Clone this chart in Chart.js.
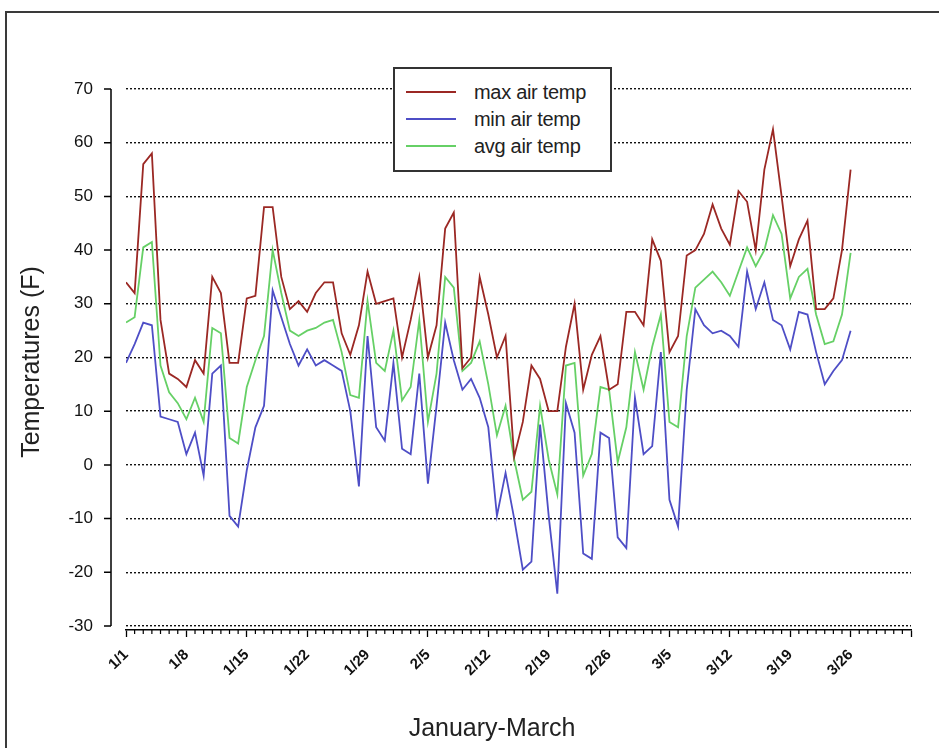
<!DOCTYPE html>
<html>
<head>
<meta charset="utf-8">
<title>Air temperature January-March</title>
<script src="https://cdn.jsdelivr.net/npm/chart.js@4.4.1/dist/chart.umd.min.js"></script>
<style>
  html, body { margin: 0; padding: 0; background: #fff; overflow: hidden; }
  #wrap { position: relative; width: 939px; height: 748px; }
  #frame { position: absolute; left: 5px; top: 11px; width: 1000px; height: 1000px; border: 2px solid #3a3a3a; box-sizing: border-box; }
  #myChart { position: absolute; left: 0; top: 0; }
  #legend { position: absolute; left: 393px; top: 67px; width: 219px; height: 105px; box-sizing: border-box;
            border: 2px solid #333; background: #fff; font-family: Arial, "Liberation Sans", sans-serif; font-size: 20px; color: #222; }
  .row { position: absolute; left: 0; height: 22px; line-height: 22px; width: 100%; }
  .swatch { position: absolute; left: 11px; top: 10px; width: 50px; height: 2px; }
  .label { position: absolute; left: 79px; top: 0; white-space: nowrap; letter-spacing: -0.3px; }
</style>
</head>
<body>
<div id="wrap">
  <div id="frame"></div>
  <canvas id="myChart" width="939" height="748"></canvas>
  <div id="legend"></div>
</div>
<script>
// daily values from 1/1 (day 0) to 3/26 (day 84), degrees F
var maxTemp = [34, 32, 56, 58, 27, 17, 16, 14.5, 19.5, 17,
               35, 32, 19, 19, 31, 31.5, 48, 48, 35, 29,
               30.5, 28.5, 32, 34, 34, 24.5, 20.5, 26, 36, 30,
               30.5, 31, 20, 27, 35, 20, 26, 44, 47, 18,
               20, 35, 28, 20, 24, 1.5, 8, 18.5, 16, 10,
               10, 22, 30, 14, 20.5, 24, 14, 15, 28.5, 28.5,
               26, 42, 38, 21, 24, 39, 40, 43, 48.5, 44,
               41, 51, 49, 40, 55, 62.5, 50, 37, 42, 45.5,
               29, 29, 31, 40, 55];
var minTemp = [19, 22.5, 26.5, 26, 9, 8.5, 8, 2, 6, -2,
               17, 18.5, -9.5, -11.5, -1, 7, 11, 32.5, 27.5, 22.5,
               18.5, 21.5, 18.5, 19.5, 18.5, 17.5, 10, -4, 24, 7,
               4.5, 19, 3, 2, 17, -3.5, 11, 26.5, 19.5, 14,
               16, 12.5, 7, -9.5, -1.5, -10, -19.5, -18, 7.5, -9.5,
               -24, 11.5, 6, -16.5, -17.5, 6, 5, -13.5, -15.5, 12.5,
               2, 3.5, 21, -6.5, -11.5, 14, 29, 26, 24.5, 25,
               24, 22, 36, 29, 34, 27, 26, 21.5, 28.5, 28,
               21, 15, 17.5, 19.5, 25];
var avgTemp = [26.5, 27.5, 40.5, 41.5, 18.5, 13.5, 11.5, 8.5, 12.5, 8,
               25.5, 24.5, 5, 4, 14.5, 19.5, 24, 40, 32, 25,
               24, 25, 25.5, 26.5, 27, 21, 13, 12.5, 30.5, 19,
               17.5, 25, 12, 14.5, 27, 8, 17, 35, 33, 17.5,
               19, 23, 15, 5.5, 11, 1, -6.5, -5, 11, 1,
               -5.5, 18.5, 19, -2, 2, 14.5, 14, 0.5, 7, 21,
               14, 22, 28, 8, 7, 24, 33, 34.5, 36, 34,
               31.5, 36, 40.5, 37, 40, 46.5, 43, 31, 35, 36.5,
               28, 22.5, 23, 28, 39.5];
var seriesNames = ['max air temp', 'min air temp', 'avg air temp'];
var tickLabels = ['1/1', '1/8', '1/15', '1/22', '1/29', '2/5', '2/12', '2/19', '2/26', '3/5', '3/12', '3/19', '3/26'];
var yTicks = [70, 60, 50, 40, 30, 20, 10, 0, -10, -20, -30];

var colors = ['rgb(155, 40, 36)', 'rgb(78, 78, 198)', 'rgb(102, 208, 102)'];
var lastDay = 91;

function toPoints(arr) {
  return arr.map(function (v, i) { return { x: i, y: v }; });
}

// draws the offset y axis, minor x ticks and the axis titles
var offsetAxes = {
  id: 'offsetAxes',
  afterDraw: function (chart) {
    var ctx = chart.ctx, x = chart.scales.x, y = chart.scales.y, area = chart.chartArea;
    var ax = area.left - 15;
    ctx.save();
    ctx.strokeStyle = '#000';
    ctx.lineWidth = 1.5;
    ctx.beginPath();
    ctx.moveTo(ax, y.getPixelForValue(70));
    ctx.lineTo(ax, y.getPixelForValue(-30));
    yTicks.forEach(function (v) {
      var py = y.getPixelForValue(v);
      ctx.moveTo(ax - 7, py);
      ctx.lineTo(ax, py);
    });
    ctx.stroke();

    ctx.lineWidth = 1.2;
    ctx.beginPath();
    for (var d = 0; d <= lastDay; d++) {
      if (d % 7 === 0) continue;
      var px = x.getPixelForValue(d);
      ctx.moveTo(px, area.bottom);
      ctx.lineTo(px, area.bottom + 4);
    }
    ctx.stroke();

    ctx.fillStyle = '#111';
    ctx.font = '17px Arial, "Liberation Sans", sans-serif';
    ctx.textAlign = 'right';
    ctx.textBaseline = 'middle';
    yTicks.forEach(function (v) {
      ctx.fillText(String(v), ax - 18, y.getPixelForValue(v));
    });

    ctx.font = '25px Arial, "Liberation Sans", sans-serif';
    ctx.fillStyle = '#222';
    ctx.textAlign = 'center';
    ctx.fillText('January-March', 492, 729);
    ctx.translate(32, 362);
    ctx.rotate(-Math.PI / 2);
    ctx.fillText('Temperatures (F)', 0, 0);
    ctx.restore();
  }
};

var ctx = document.getElementById('myChart').getContext('2d');
var chart = new Chart(ctx, {
  type: 'line',
  data: {
    datasets: [maxTemp, minTemp, avgTemp].map(function (arr, i) {
      return {
        label: seriesNames[i],
        data: toPoints(arr),
        borderColor: colors[i],
        backgroundColor: colors[i],
        borderWidth: 1.8,
        pointRadius: 0,
        tension: 0,
        fill: false
      };
    })
  },
  options: {
    responsive: false,
    animation: false,
    devicePixelRatio: 1,
    layout: { padding: { top: 89, right: 28, bottom: 0, left: 0 } },
    plugins: { legend: { display: false }, tooltip: { enabled: false } },
    scales: {
      x: {
        type: 'linear',
        min: 0,
        max: lastDay,
        afterFit: function (scale) { scale.height = 118; },
        afterBuildTicks: function (scale) {
          var t = [];
          for (var d = 0; d <= lastDay; d++) t.push({ value: d });
          scale.ticks = t;
        },
        ticks: {
          autoSkip: false,
          minRotation: 45,
          maxRotation: 45,
          padding: 9,
          color: '#111',
          font: { family: 'Arial', size: 15, weight: 'bold' },
          callback: function (v) {
            return (v % 7 === 0 && tickLabels[v / 7]) ? tickLabels[v / 7] : '';
          }
        },
        grid: {
          drawOnChartArea: false,
          tickLength: 7,
          tickWidth: 1.3,
          tickColor: function (c) { return c.tick && c.tick.value % 7 === 0 ? '#000' : 'rgba(0,0,0,0)'; }
        },
        border: { display: true, color: '#000', width: 1.5 }
      },
      y: {
        min: -30.75,
        max: 70,
        afterFit: function (scale) { scale.width = 126; },
        afterBuildTicks: function (scale) {
          scale.ticks = yTicks.map(function (v) { return { value: v }; });
        },
        ticks: { display: false },
        grid: { drawTicks: false, color: '#111', lineWidth: 1.4 },
        border: { display: false, dash: [2, 2] }
      }
    }
  },
  plugins: [offsetAxes]
});

// legend box
var legend = document.getElementById('legend');
var rowCenters = [25, 52, 79];
seriesNames.forEach(function (name, i) {
  var row = document.createElement('div');
  row.className = 'row';
  row.style.top = (rowCenters[i] - 13) + 'px';
  row.innerHTML = '<span class="swatch" style="background:' + colors[i] + '"></span><span class="label">' + name + '</span>';
  legend.appendChild(row);
});
</script>
</body>
</html>
